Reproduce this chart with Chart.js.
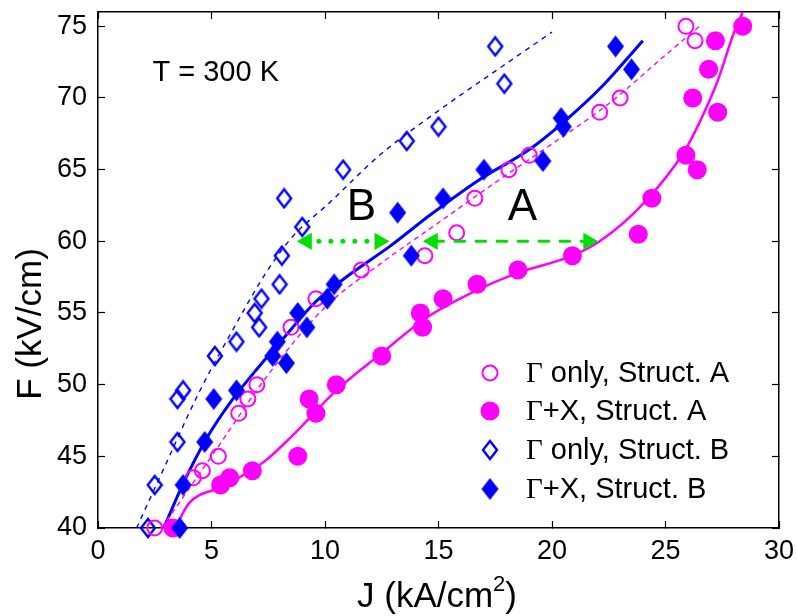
<!DOCTYPE html>
<html>
<head>
<meta charset="utf-8">
<title>F-J characteristics</title>
<script src="https://cdn.jsdelivr.net/npm/chart.js@4.4.1/dist/chart.umd.min.js"></script>
<style>
  html, body { margin: 0; padding: 0; background: #fff; }
  canvas { display: block; }
</style>
</head>
<body>
<canvas id="fjChart" width="797" height="616"></canvas>
<script>
// measured points: J in kA/cm^2, F in kV/cm
const gOnlyA_J = [2.5, 4.2, 4.6, 5.3, 6.2, 6.6, 7.0, 8.5, 9.6, 11.6, 14.4, 15.8, 16.6, 18.1, 19.0, 22.1, 23.0, 26.3, 25.9];
const gOnlyA_F = [40, 43.5, 44, 45, 48, 49, 50, 54, 56, 58, 59, 60.6, 63, 65, 66, 69, 70, 74, 75];

const gxA_J = [3.3, 5.4, 5.8, 6.8, 8.8, 9.3, 9.6, 10.5, 12.5, 14.2, 14.3, 15.2, 16.7, 18.5, 20.9, 23.8, 24.4, 25.9, 26.4, 26.2, 27.3, 26.9, 27.2, 28.4];
const gxA_F = [40, 43, 43.5, 44, 45, 49, 48, 50, 52, 55, 54, 56, 57, 58, 59, 60.5, 63, 66, 65, 70, 69, 72, 74, 75];

const gOnlyB_J = [2.2, 2.5, 3.5, 3.5, 3.75, 5.15, 6.1, 6.9, 7.1, 7.2, 8.0, 8.1, 8.2, 9.0, 10.8, 13.6, 15.0, 17.5, 17.9];
const gOnlyB_F = [40, 43, 46, 49, 49.6, 52, 53, 55, 54, 56, 57, 59, 63, 61, 65, 67, 68, 73.6, 71];

const gxB_J = [3.6, 3.75, 4.7, 5.1, 6.1, 7.7, 7.9, 8.3, 8.8, 9.2, 10.1, 10.4, 13.2, 13.8, 15.2, 17.0, 19.6, 20.4, 20.5, 22.8, 23.5];
const gxB_F = [40, 43, 46, 49, 49.6, 52, 53, 51.5, 55, 54, 56, 57, 62, 59, 63, 65, 65.6, 68.6, 68, 73.6, 72];

// simulated curves
const fitGxA_J = [3.4, 4.0, 5.5, 7.3, 8.6, 10.5, 12.5, 14.5, 16.7, 18.5, 20.9, 22.1, 24.0, 25.8, 26.5, 27.3, 28.0, 28.4];
const fitGxA_F = [40, 41.7, 42.9, 44.6, 46.5, 49.6, 52.2, 54.7, 56.6, 57.8, 59.0, 60.0, 62.6, 66.2, 68.3, 71.2, 74.5, 76];

const fitGA_J = [2.8, 5, 7.5, 10, 12.5, 15, 17.5, 20, 22.5, 25, 26.5];
const fitGA_F = [40, 45, 50.7, 55.4, 58.5, 61.3, 64.1, 66.8, 69.6, 73, 75];

const fitGxB_J = [2.9, 3.75, 4.8, 5.8, 6.8, 8.15, 9.6, 11.1, 12.9, 14.6, 16.8, 19.0, 20.5, 22.2, 24.0];
const fitGxB_F = [40, 43.1, 46.3, 48.7, 50.7, 53.2, 55.8, 57.7, 59.7, 61.8, 64.3, 66.4, 68.3, 70.8, 74.0];

const fitGB_J = [1.7, 3.0, 4.4, 6.0, 7.4, 8.5, 10.2, 12.4, 14.9, 17.8, 20.0];
const fitGB_F = [40, 44.5, 49.3, 54.0, 57.8, 60.2, 62.7, 66.0, 69.0, 72.2, 74.6];

// horizontal shift arrows at F = 60
const arrowB_J = [9.2, 12.4];
const arrowA_J = [14.75, 21.6];
const arrowF = [60, 60];

const legendLabels = [
  ["\u0393", " only, Struct. A"],
  ["\u0393", "+X, Struct. A"],
  ["\u0393", " only, Struct. B"],
  ["\u0393", "+X, Struct. B"]
];

const MAGENTA = "#ff00ff";
const BLUE = "#0000ff";
const GREEN = "#00e000";
const SANS = "'Liberation Sans', Arial, Helvetica, sans-serif";
const SERIF = "'Liberation Serif', 'Times New Roman', serif";
const TICK_LEN = 7;

function toPoints(xs, ys) {
  return xs.map((x, i) => ({ x: x, y: ys[i] }));
}

// tall diamond marker, like the matlab one
function makeDiamond(w, h, filled) {
  const c = document.createElement("canvas");
  c.width = w + 4;
  c.height = h + 4;
  const g = c.getContext("2d");
  g.beginPath();
  g.moveTo(c.width / 2, 2);
  g.lineTo(c.width - 2, c.height / 2);
  g.lineTo(c.width / 2, c.height - 2);
  g.lineTo(2, c.height / 2);
  g.closePath();
  if (filled) {
    g.fillStyle = BLUE;
    g.fill();
  } else {
    g.strokeStyle = BLUE;
    g.lineWidth = 2.4;
    g.stroke();
  }
  return c;
}

const openDiamond = makeDiamond(14, 18, false);
const fullDiamond = makeDiamond(17, 22, true);

function drawMarker(ctx, kind, x, y) {
  if (kind === 0) {
    ctx.beginPath();
    ctx.arc(x, y, 7.5, 0, Math.PI * 2);
    ctx.strokeStyle = MAGENTA;
    ctx.lineWidth = 2;
    ctx.stroke();
  } else if (kind === 1) {
    ctx.beginPath();
    ctx.arc(x, y, 9.5, 0, Math.PI * 2);
    ctx.fillStyle = MAGENTA;
    ctx.fill();
  } else {
    const img = kind === 2 ? openDiamond : fullDiamond;
    ctx.drawImage(img, x - img.width / 2, y - img.height / 2);
  }
}

// text labels, legend and axis titles
const labelsPlugin = {
  id: "labels",
  afterDraw(chart) {
    const ctx = chart.ctx;
    const xs = chart.scales.x;
    const ys = chart.scales.y;

    ctx.save();
    ctx.fillStyle = "#000";
    ctx.textBaseline = "alphabetic";

    ctx.font = "29px " + SANS;
    ctx.textAlign = "left";
    ctx.fillText("T = 300 K", xs.getPixelForValue(2.4), ys.getPixelForValue(71.2));
    ctx.font = "44px " + SANS;
    ctx.textAlign = "center";
    ctx.fillText("B", xs.getPixelForValue(11.6), ys.getPixelForValue(61.5));
    ctx.fillText("A", xs.getPixelForValue(18.7), ys.getPixelForValue(61.5));

    // legend
    const rowY = [373, 411, 450, 489];
    legendLabels.forEach((lab, i) => {
      drawMarker(ctx, i, 490, rowY[i]);
      ctx.fillStyle = "#000";
      ctx.textAlign = "left";
      ctx.textBaseline = "middle";
      ctx.font = "29px " + SERIF;
      ctx.fillText(lab[0], 526, rowY[i] + 1);
      const gw = ctx.measureText(lab[0]).width;
      ctx.font = "29px " + SANS;
      ctx.fillText(lab[1], 526 + gw, rowY[i] + 1);
    });

    // axis titles
    ctx.textBaseline = "middle";
    ctx.font = "35px " + SANS;
    ctx.save();
    ctx.translate(31, 324);
    ctx.rotate(-Math.PI / 2);
    ctx.textAlign = "center";
    ctx.fillText("F (kV/cm)", 0, 0);
    ctx.restore();

    const p1 = "J (kA/cm";
    const p3 = ")";
    ctx.font = "35px " + SANS;
    const w1 = ctx.measureText(p1).width;
    const w3 = ctx.measureText(p3).width;
    ctx.font = "22px " + SANS;
    const w2 = ctx.measureText("2").width;
    let x0 = 437 - (w1 + w2 + w3) / 2;
    ctx.textAlign = "left";
    ctx.font = "35px " + SANS;
    ctx.fillText(p1, x0, 597);
    ctx.font = "22px " + SANS;
    ctx.fillText("2", x0 + w1, 585);
    ctx.font = "35px " + SANS;
    ctx.fillText(p3, x0 + w1 + w2, 597);

    ctx.restore();
  }
};

const fitLine = (xs, ys, color, width, dash) => ({
  type: "line",
  data: toPoints(xs, ys),
  borderColor: color,
  borderWidth: width,
  borderDash: dash,
  pointRadius: 0,
  fill: false,
  showLine: true,
  cubicInterpolationMode: "monotone",
  order: 3
});

const arrow = (xs, dash, width, cap) => ({
  type: "line",
  data: toPoints(xs, arrowF),
  borderColor: GREEN,
  borderWidth: width,
  borderDash: dash,
  borderCapStyle: cap,
  showLine: true,
  fill: false,
  pointStyle: "triangle",
  pointRadius: 10,
  pointRotation: [-90, 90],
  pointBackgroundColor: GREEN,
  pointBorderWidth: 0,
  order: 0
});

// negative tick length turns the tick marks into the plot box
const inwardTicks = {
  display: true,
  drawOnChartArea: false,
  drawTicks: true,
  tickLength: -TICK_LEN,
  tickColor: "#000",
  tickWidth: 1.2
};

// top and right sides of the box: ticks only, no labels
const boxSide = (position, min, max) => ({
  type: "linear",
  position: position,
  min: min,
  max: max,
  ticks: { display: false, stepSize: 5, includeBounds: false },
  grid: inwardTicks,
  border: { display: true, color: "#000", width: 1.5 },
  afterFit(s) {
    if (position === "top") s.height = 0;
    else s.width = 0;
  }
});

new Chart(document.getElementById("fjChart"), {
  type: "scatter",
  data: {
    datasets: [
      fitLine(fitGxA_J, fitGxA_F, MAGENTA, 2.5, []),
      fitLine(fitGA_J, fitGA_F, MAGENTA, 1.4, [5, 4]),
      fitLine(fitGxB_J, fitGxB_F, BLUE, 3, []),
      fitLine(fitGB_J, fitGB_F, BLUE, 1.4, [5, 5]),
      {
        data: toPoints(gOnlyA_J, gOnlyA_F),
        pointStyle: "circle",
        pointRadius: 7.5,
        pointBorderColor: MAGENTA,
        pointBackgroundColor: "rgba(0,0,0,0)",
        pointBorderWidth: 2,
        clip: false,
        order: 2
      },
      {
        data: toPoints(gxA_J, gxA_F),
        pointStyle: "circle",
        pointRadius: 9.5,
        pointBorderWidth: 0,
        pointBackgroundColor: MAGENTA,
        clip: false,
        order: 2
      },
      {
        data: toPoints(gOnlyB_J, gOnlyB_F),
        pointStyle: openDiamond,
        pointRadius: 9,
        clip: false,
        order: 2
      },
      {
        data: toPoints(gxB_J, gxB_F),
        pointStyle: fullDiamond,
        pointRadius: 11,
        clip: false,
        order: 1
      },
      arrow(arrowB_J, [0, 12], 5, "round"),
      arrow(arrowA_J, [12, 9], 3, "butt")
    ]
  },
  options: {
    responsive: false,
    animation: false,
    devicePixelRatio: 1,
    layout: { padding: { top: 8, right: 18, left: 0, bottom: 0 } },
    plugins: {
      legend: { display: false },
      tooltip: { enabled: false }
    },
    scales: {
      x: {
        type: "linear",
        min: 0,
        max: 30,
        grid: inwardTicks,
        border: { display: true, color: "#000", width: 1.5 },
        ticks: {
          stepSize: 5,
          includeBounds: false,
          maxRotation: 0,
          padding: 7 + TICK_LEN,
          color: "#000",
          font: { family: SANS, size: 27 }
        },
        afterFit(s) {
          s.height = 88;
          s.paddingLeft = 0;
          s.paddingRight = 0;
        }
      },
      y: {
        type: "linear",
        min: 40,
        max: 76,
        grid: inwardTicks,
        border: { display: true, color: "#000", width: 1.5 },
        ticks: {
          stepSize: 5,
          includeBounds: false,
          padding: 11 + TICK_LEN,
          color: "#000",
          font: { family: SANS, size: 27 }
        },
        afterFit(s) {
          s.width = 98;
          s.paddingTop = 0;
          s.paddingBottom = 0;
        }
      },
      xTop: boxSide("top", 0, 30),
      yRight: boxSide("right", 40, 76)
    }
  },
  plugins: [labelsPlugin]
});
</script>
</body>
</html>
